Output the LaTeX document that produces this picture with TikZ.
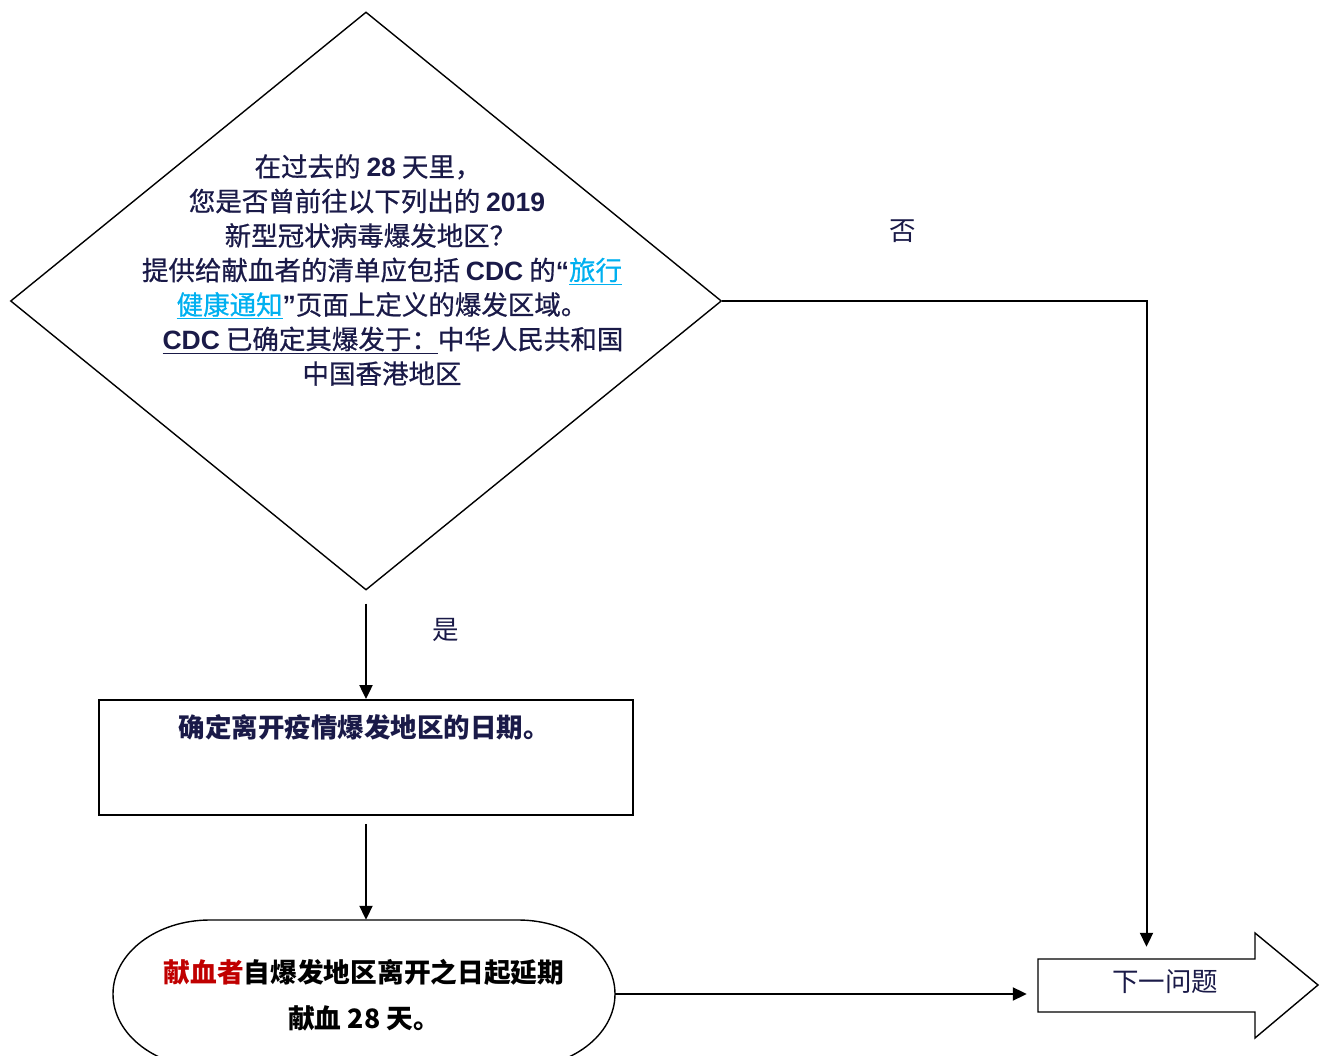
\documentclass[tikz,border=0pt]{standalone}
\usepackage{fontspec}
\setmainfont{Noto Sans CJK SC}
\newfontfamily\cjkmed{Noto Sans CJK SC}[FakeBold=0.7]
\newfontfamily\lat{Liberation Sans}
\usetikzlibrary{shapes.geometric,arrows.meta}
\definecolor{navy}{RGB}{26,26,72}
\definecolor{linkblue}{RGB}{0,176,240}
\definecolor{dred}{RGB}{192,0,0}
\newcommand{\padbox}[1]{\rule{#1}{0pt}}
\begin{document}
\begin{tikzpicture}[x=1pt,y=1pt,
  conn/.style={line width=2pt,-{Triangle[length=14pt,width=13pt]}},
  lbl/.style={font=\fontsize{26.5}{30}\selectfont, text=navy, inner sep=0},
  outline/.style={draw, line width=1.4pt},
]
\useasboundingbox (0,0) rectangle (1320,1055);
% decision diamond
\node[outline, shape=diamond, minimum width=711pt, minimum height=578pt, inner sep=0] (dia) at (366,754) {};
\node[align=center, text=navy, font=\fontsize{26.5}{34.5}\selectfont\cjkmed, inner sep=0] (qtext) at (382,785)
 {在过去的 {\lat\bfseries 28} 天里，\padbox{28pt}\\
  您是否曾前往以下列出的 {\lat\bfseries 2019}\padbox{30pt}\\
  新型冠状病毒爆发地区？\padbox{23pt}\\
  提供给献血者的清单应包括 {\lat\bfseries CDC} 的{\lat\bfseries “}\textcolor{linkblue}{\underline{旅行}}\\
  \textcolor{linkblue}{\underline{健康通知}}{\lat\bfseries ”}页面上定义的爆发区域。\\
  \padbox{22pt}\underline{{\lat\bfseries CDC} 已确定其爆发于：}中华人民共和国\\
  中国香港地区};
% process box
\node[draw, line width=1.8pt, minimum width=534pt, minimum height=115pt, inner sep=0] (box) at (366,297.5) {};
\node[font=\fontsize{26.5}{30}\selectfont\bfseries, text=navy, inner sep=0] (boxtext) at (364,328) {确定离开疫情爆发地区的日期。};
% terminator
\node[minimum width=502pt, minimum height=148pt, inner sep=0] (term) at (364,61) {};
\draw[line width=1.4pt] (210,135) -- (518,135) arc[start angle=90,end angle=-90,x radius=97,y radius=74]
  -- (210,-13) arc[start angle=270,end angle=90,x radius=97,y radius=74] -- cycle;
\node[font=\fontsize{26.7}{46}\selectfont\bfseries, align=center, inner sep=0] (termtext) at (364,60)
 {\textcolor{dred}{献血者}自爆发地区离开之日起延期\\献血 28 天。};
% next question block arrow
\node[minimum width=217pt, minimum height=53pt, inner sep=0] (nextq) at (1146.5,69.5) {};
\draw[line width=1.4pt] (1038,96) -- (1255,96) -- (1255,122) -- (1318,70) -- (1255,17) -- (1255,43) -- (1038,43) -- cycle;
\node[lbl] (nqtext) at (1165,73) {下一问题};
% labels
\node[lbl] (no) at (903,824) {否};
\node[lbl] (yes) at (446,425) {是};
% connectors
\draw[conn, shorten <=13pt] (dia.south) -- (box.north);
\draw[conn, shorten <=8pt] (box.south) -- (box.south |- term.north);
\draw[conn, shorten >=11pt] (term.east) -- (term.east -| nextq.west);
\draw[conn, shorten >=12pt] (dia.east) -| (nextq.north);
\end{tikzpicture}
\end{document}
